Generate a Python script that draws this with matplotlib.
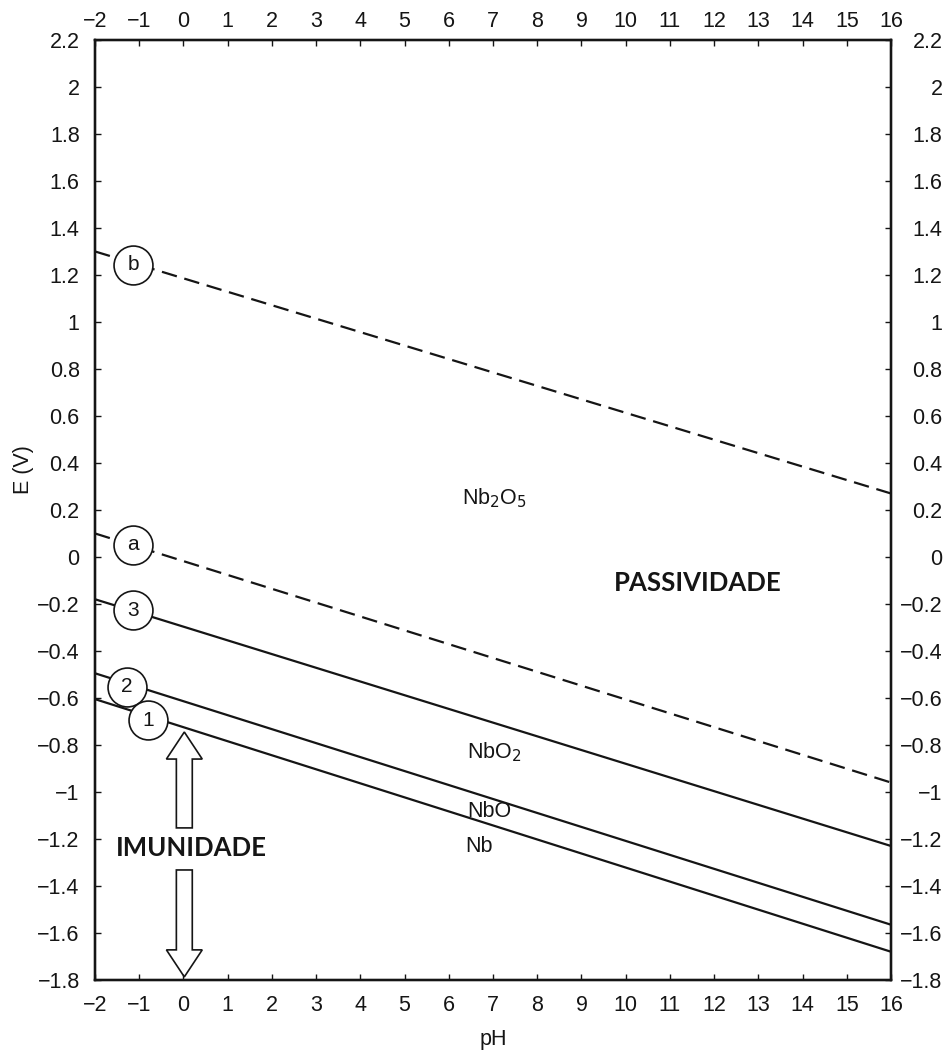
import numpy as np
import matplotlib.pyplot as plt
from matplotlib.ticker import FuncFormatter

plt.rcParams['font.family'] = ['Liberation Sans', 'DejaVu Sans']
plt.rcParams['axes.unicode_minus'] = True

## Data ##

# equilibrium lines, E (V) at the two ends of the pH range
ph_ends = [-2, 16]
line_b = [1.30, 0.27]      # O2 / H2O
line_a = [0.10, -0.96]     # H+ / H2
line_3 = [-0.18, -1.23]    # NbO2 / Nb2O5
line_2 = [-0.495, -1.565]  # NbO / NbO2
line_1 = [-0.605, -1.68]   # Nb / NbO

# circled line labels
tag_names = ['b', 'a', '3', '2', '1']
tag_ph = [-1.14, -1.14, -1.14, -1.28, -0.80]
tag_e = [1.243, 0.051, -0.226, -0.553, -0.694]

# stability fields
phase_names = ['Nb$_2$O$_5$', 'NbO$_2$', 'NbO', 'Nb']
phase_ph = [6.30, 6.42, 6.42, 6.37]
phase_e = [0.251, -0.83, -1.085, -1.234]

# immunity arrows (pH, E start, E end)
arrow_ph = 0.02
arrow_up = [-1.153, -0.745]
arrow_down = [-1.332, -1.787]

xticks = [-2, -1, 0, 1, 2, 3, 4, 5, 6, 7, 8, 9, 10, 11, 12, 13, 14, 15, 16]
yticks = [-1.8, -1.6, -1.4, -1.2, -1, -0.8, -0.6, -0.4, -0.2, 0,
          0.2, 0.4, 0.6, 0.8, 1, 1.2, 1.4, 1.6, 1.8, 2, 2.2]

###################

ink = '#151515'
fs = 15.5

fig = plt.figure(figsize=(9.48, 10.51), dpi=100)
ax = fig.add_axes([0.1002, 0.0676, 0.8397, 0.8944])

dash = (0, (7, 3.5))
ax.plot(ph_ends, line_b, color=ink, lw=1.6, linestyle=dash)
ax.plot(ph_ends, line_a, color=ink, lw=1.6, linestyle=dash)
ax.plot(ph_ends, line_3, color=ink, lw=1.6)
ax.plot(ph_ends, line_2, color=ink, lw=1.6)
ax.plot(ph_ends, line_1, color=ink, lw=1.6)

# circles over the lines, with the label inside
ax.plot(tag_ph, tag_e, 'o', ms=28, mfc='white', mec=ink, mew=1.2,
        linestyle='none', zorder=3)
for name, x, y in zip(tag_names, tag_ph, tag_e):
    ax.text(x, y, name, ha='center', va='center', fontsize=15, color=ink,
            zorder=4)

for name, x, y in zip(phase_names, phase_ph, phase_e):
    ax.text(x, y, name, ha='left', va='center', fontsize=fs, color=ink)

ax.text(11.64, -0.11, 'PASSIVIDADE', ha='center', va='center', color=ink,
        fontsize=18.5, fontweight='bold', family=['Lato', 'DejaVu Sans'])
ax.text(0.19, -1.238, 'IMUNIDADE', ha='center', va='center', color=ink,
        fontsize=18.5, fontweight='bold', family=['Lato', 'DejaVu Sans'])

arrow_kw = dict(width=0.36, head_width=0.81, head_length=0.115,
                length_includes_head=True, fc='white', ec=ink, lw=1.2)
ax.arrow(arrow_ph, arrow_up[0], 0, arrow_up[1] - arrow_up[0], **arrow_kw)
ax.arrow(arrow_ph, arrow_down[0], 0, arrow_down[1] - arrow_down[0], **arrow_kw)

ax.set_xlim(-2, 16)
ax.set_ylim(-1.8, 2.2)

fmt = FuncFormatter(lambda v, p: '{:g}'.format(v).replace('-', '\u2212'))
ax.set_xticks(xticks)
ax.set_yticks(yticks)
ax.xaxis.set_major_formatter(fmt)
ax.yaxis.set_major_formatter(fmt)
ax.tick_params(axis='x', direction='in', length=4, width=1, pad=11,
               labelsize=fs, colors=ink)
ax.tick_params(axis='y', direction='in', length=4, width=1, pad=11,
               labelsize=fs, colors=ink)

# top scale
axt = ax.twiny()
axt.set_xlim(-2, 16)
axt.set_xticks(xticks)
axt.xaxis.set_major_formatter(fmt)
axt.tick_params(axis='x', direction='in', length=4, width=1, pad=6,
                labelsize=fs, colors=ink)

# right hand scale, labels right-aligned
ax2 = ax.twinx()
ax2.set_ylim(-1.8, 2.2)
ax2.set_yticks(yticks)
ax2.yaxis.set_major_formatter(fmt)
ax2.tick_params(axis='y', direction='in', length=4, width=1, pad=37,
                labelsize=fs, colors=ink)
for lbl in ax2.get_yticklabels():
    lbl.set_horizontalalignment('right')

for a in (ax, axt, ax2):
    for s in a.spines.values():
        s.set_linewidth(1.6)
        s.set_color(ink)

ax.set_xlabel('pH', fontsize=fs, labelpad=9, color=ink)
ax.set_ylabel('E (V)', fontsize=fs, color=ink)
ax.yaxis.set_label_coords(-0.077, 0.543)

plt.savefig('out.png', dpi=100)
